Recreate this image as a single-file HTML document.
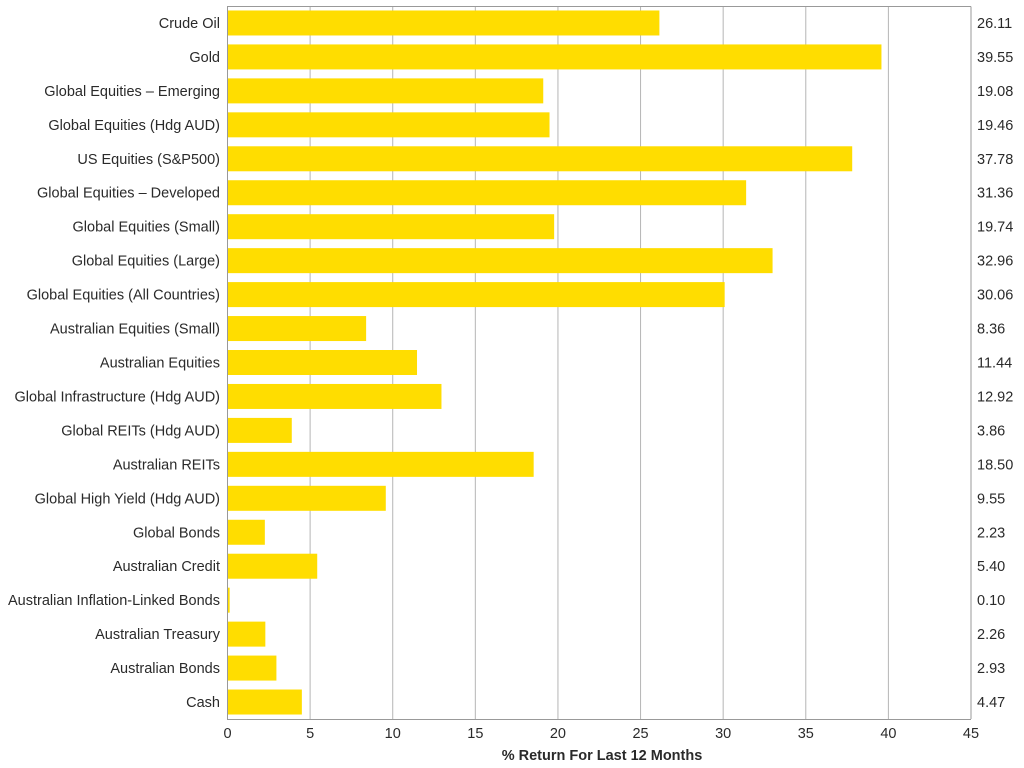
<!DOCTYPE html>
<html><head><meta charset="utf-8"><style>body{margin:0;background:#fff}svg{display:block}text{font-family:"Liberation Sans",sans-serif;fill:#2a2a2a}</style></head>
<body>
<svg width="1024" height="768" viewBox="0 0 1024 768" xmlns="http://www.w3.org/2000/svg">
<g id="grid" stroke="#b5b5b5" stroke-width="1"></g>
<g id="bars"></g>
<g id="labels" font-size="14.5"></g>
<line x1="227.5" y1="6" x2="227.5" y2="719" stroke="#999"/>
<line x1="227" y1="719.5" x2="971" y2="719.5" stroke="#999"/>
<line x1="971" y1="6.5" x2="971" y2="719" stroke="#999"/>
<line x1="227" y1="6.5" x2="971" y2="6.5" stroke="#999"/>
<text x="602" y="760" font-size="14.5" font-weight="bold" text-anchor="middle">% Return For Last 12 Months</text>
</svg>
<script>
(function(){
var d=[["Crude Oil",26.11],["Gold",39.55],["Global Equities – Emerging",19.08],["Global Equities (Hdg AUD)",19.46],["US Equities (S&P500)",37.78],["Global Equities – Developed",31.36],["Global Equities (Small)",19.74],["Global Equities (Large)",32.96],["Global Equities (All Countries)",30.06],["Australian Equities (Small)",8.36],["Australian Equities",11.44],["Global Infrastructure (Hdg AUD)",12.92],["Global REITs (Hdg AUD)",3.86],["Australian REITs",18.50],["Global High Yield (Hdg AUD)",9.55],["Global Bonds",2.23],["Australian Credit",5.40],["Australian Inflation-Linked Bonds",0.10],["Australian Treasury",2.26],["Australian Bonds",2.93],["Cash",4.47]];
var ns="http://www.w3.org/2000/svg",x0=227.5,k=(971-227.5)/45,y0=6,rh=713/21;
function el(t,a,p,txt){var e=document.createElementNS(ns,t);for(var q in a)e.setAttribute(q,a[q]);if(txt!=null)e.textContent=txt;document.getElementById(p).appendChild(e);return e;}
for(var i=0;i<=9;i++){var x=x0+i*5*k;if(i>0&&i<9)el("line",{x1:x,y1:6,x2:x,y2:719},"grid");
el("text",{x:x,y:738,"text-anchor":"middle"},"labels",String(i*5));}
d.forEach(function(r,i){var c=y0+rh*(i+0.5);
el("rect",{x:x0+0.5,y:c-12.5,width:Math.max(r[1]*k,1.5),height:25,fill:"#FFDD00"},"bars");
el("text",{x:220,y:c+5,"text-anchor":"end"},"labels",r[0]);
el("text",{x:977,y:c+5},"labels",r[1].toFixed(2));});
})();
</script>
</body></html>
